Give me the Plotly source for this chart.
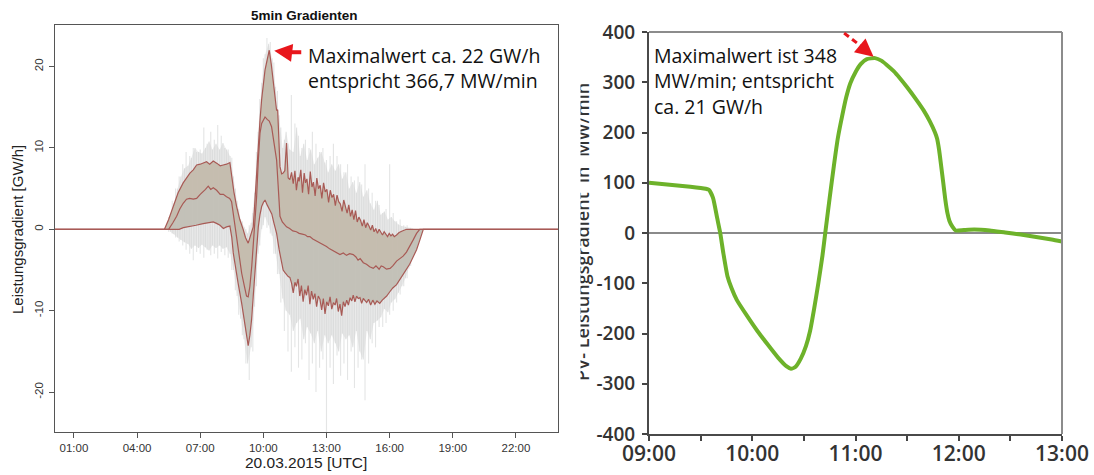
import plotly.graph_objects as go

# ---------------- left panel: 5-min ramp ensemble, 20.03.2015 [GW/h] ----------------
# (hour UTC, GW/h) upper quantile of the ensemble
q_hi = [(0, 0), (5.30, 0), (5.50, 1.2), (5.72, 2.8), (5.95, 4.5), (6.19, 5.7), (6.35, 6.3),
        (6.51, 6.9), (6.67, 7.3), (6.83, 7.9), (7.00, 8.0), (7.14, 8.1), (7.30, 8.3), (7.45, 8.0),
        (7.62, 8.4), (7.80, 8.1), (7.95, 7.8), (8.09, 7.9), (8.25, 8.0), (8.41, 8.2), (8.49, 6.5),
        (8.60, 4.6), (8.73, 2.8), (8.88, 1.2), (9.04, 0.0), (9.15, -1.0), (9.28, -1.7), (9.40, -0.8),
        (9.52, 0.3), (9.60, 3.5), (9.68, 7.3), (9.76, 10.5), (9.84, 13.4), (9.92, 16.0), (10.00, 18.3),
        (10.08, 19.6), (10.18, 20.8), (10.28, 22.0), (10.38, 20.2), (10.47, 18.3), (10.55, 16.0),
        (10.63, 14.6), (10.68, 14.7), (10.72, 12.0), (10.79, 7.7), (10.87, 6.8), (10.94, 6.9),
        (11.02, 7.2), (11.10, 10.6), (11.18, 6.3), (11.26, 6.1), (11.34, 7.0), (11.42, 5.6),
        (11.50, 7.2), (11.57, 4.8), (11.65, 6.4), (11.70, 5.9), (11.78, 7.3), (11.86, 4.5),
        (11.94, 6.9), (12.00, 5.7), (12.07, 6.2), (12.15, 4.3), (12.23, 7.1), (12.31, 5.2),
        (12.38, 5.8), (12.46, 4.1), (12.54, 6.3), (12.62, 5.0), (12.70, 5.4), (12.78, 3.8),
        (12.86, 5.7), (12.94, 4.6), (13.02, 4.9), (13.10, 3.3), (13.18, 4.8), (13.26, 3.9),
        (13.34, 4.3), (13.42, 2.9), (13.50, 4.2), (13.58, 3.4), (13.66, 3.1), (13.74, 2.2),
        (13.82, 3.6), (13.90, 2.6), (13.98, 2.0), (14.06, 3.0), (14.14, 1.6), (14.22, 2.4),
        (14.30, 1.2), (14.38, 2.3), (14.46, 0.9), (14.54, 1.5), (14.62, 1.1), (14.70, 0.4),
        (14.78, 1.2), (14.86, 0.2), (14.94, 0.8), (15.02, 0.4), (15.10, -0.1), (15.18, 0.5),
        (15.26, -0.3), (15.34, 0.1), (15.42, -0.5), (15.50, 0.0), (15.58, -0.4), (15.66, -0.7),
        (15.74, -0.3), (15.82, -0.6), (15.90, -0.9), (15.98, -0.5), (16.06, -0.8), (16.14, -0.6),
        (16.22, -0.9), (16.33, -0.7), (16.45, -0.4), (16.60, -0.2), (16.80, 0), (24, 0)]

# median of the ensemble
q_mid = [(0, 0), (5.50, 0), (5.70, 0.8), (5.88, 1.6), (6.03, 2.5), (6.19, 3.2), (6.35, 3.7),
         (6.50, 3.8), (6.67, 3.7), (6.83, 3.8), (7.00, 4.3), (7.14, 4.6), (7.25, 4.9), (7.38, 5.3),
         (7.50, 4.9), (7.62, 5.1), (7.78, 4.8), (7.95, 4.3), (8.10, 4.3), (8.25, 4.0), (8.40, 3.8),
         (8.49, 3.4), (8.60, 1.5), (8.73, -0.9), (8.85, -3.0), (8.97, -5.4), (9.10, -7.0), (9.20, -8.2),
         (9.28, -8.3), (9.36, -7.0), (9.45, -4.5), (9.52, -1.8), (9.60, 0.3), (9.68, 4.0), (9.76, 8.5),
         (9.84, 11.8), (9.92, 13.0), (10.00, 13.4), (10.08, 13.8), (10.18, 13.5), (10.28, 13.3),
         (10.39, 12.6), (10.47, 11.0), (10.55, 9.8), (10.63, 8.5), (10.70, 5.5), (10.79, 1.6),
         (10.90, 0.9), (11.00, 0.6), (11.10, 0.3), (11.25, 0.1), (11.40, -0.2), (11.57, -0.3),
         (11.70, -0.5), (11.85, -0.6), (12.00, -0.7), (12.10, -0.9), (12.21, -0.9), (12.35, -1.2),
         (12.50, -1.4), (12.60, -1.5), (12.75, -1.8), (12.90, -1.9), (13.00, -2.1), (13.15, -2.4),
         (13.30, -2.6), (13.45, -2.9), (13.64, -3.1), (13.80, -2.9), (13.95, -3.2), (14.10, -3.0),
         (14.27, -3.1), (14.40, -3.4), (14.50, -3.8), (14.60, -3.6), (14.75, -4.1), (14.90, -4.3),
         (15.05, -4.6), (15.22, -4.8), (15.35, -4.5), (15.50, -4.9), (15.60, -4.5), (15.70, -4.6),
         (15.85, -4.9), (16.02, -4.8), (16.15, -4.5), (16.33, -3.9), (16.50, -3.6), (16.64, -3.3),
         (16.80, -2.8), (16.96, -2.1), (17.12, -1.3), (17.28, -0.5), (17.43, 0), (24, 0)]

# lower quantile of the ensemble
q_lo = [(0, 0), (6.00, 0), (6.20, 0.2), (6.51, 0.4), (6.80, 0.5), (7.14, 0.7), (7.40, 0.8),
        (7.62, 0.9), (7.80, 0.7), (7.94, 0.5), (8.10, 0.1), (8.25, 0.3), (8.41, 0.4), (8.50, -1.0),
        (8.57, -2.9), (8.68, -4.8), (8.80, -6.6), (8.97, -9.1), (9.12, -11.9), (9.22, -13.5),
        (9.28, -14.3), (9.36, -13.0), (9.44, -11.1), (9.52, -8.2), (9.60, -5.4), (9.68, -2.5),
        (9.76, 0.3), (9.84, 1.8), (9.92, 2.8), (10.00, 3.3), (10.08, 3.6), (10.18, 3.0), (10.31, 2.4),
        (10.40, 1.9), (10.50, 0.8), (10.63, -0.5), (10.75, -2.5), (10.85, -4.0), (10.94, -5.0),
        (11.02, -5.3), (11.10, -5.6), (11.18, -5.8), (11.26, -5.9), (11.34, -6.6), (11.42, -7.8),
        (11.50, -6.5), (11.57, -7.0), (11.65, -6.1), (11.73, -8.2), (11.81, -6.9), (11.89, -8.9),
        (11.97, -7.4), (12.05, -8.1), (12.13, -6.9), (12.21, -9.2), (12.29, -7.6), (12.37, -8.6),
        (12.45, -7.9), (12.53, -9.5), (12.61, -8.2), (12.69, -8.6), (12.77, -9.9), (12.85, -8.5),
        (12.93, -10.4), (13.01, -8.9), (13.09, -9.4), (13.17, -8.3), (13.25, -9.8), (13.33, -9.0),
        (13.41, -9.3), (13.48, -8.5), (13.56, -10.1), (13.64, -9.2), (13.72, -10.6), (13.80, -8.9),
        (13.88, -9.5), (13.96, -8.7), (14.04, -9.3), (14.12, -8.4), (14.20, -8.8), (14.27, -8.1),
        (14.35, -8.9), (14.43, -8.2), (14.51, -8.5), (14.59, -8.4), (14.67, -9.1), (14.75, -8.5),
        (14.83, -8.7), (14.91, -9.0), (15.00, -8.6), (15.10, -9.3), (15.20, -8.7), (15.30, -9.2),
        (15.40, -8.8), (15.53, -9.1), (15.65, -8.7), (15.78, -8.4), (15.86, -8.2), (16.00, -7.7),
        (16.15, -7.2), (16.33, -6.8), (16.50, -6.1), (16.65, -5.6), (16.80, -5.0), (16.95, -4.3),
        (17.10, -3.5), (17.28, -2.5), (17.45, -1.2), (17.60, 0), (24, 0)]

# extremes of the individual ensemble members on the 10-minute marks (hour, max, min)
members_far = [(5.50, 1.5, -0.3), (5.67, 3.5, -0.5), (5.83, 5.0, -1.0), (6.00, 6.5, -1.5),
               (6.17, 8.0, -2.0), (6.33, 9.5, -2.5), (6.50, 9.0, -3.0), (6.67, 10.0, -3.8),
               (6.83, 9.5, -2.8), (7.00, 9.8, -3.0), (7.17, 12.5, -3.5), (7.33, 10.5, -2.5),
               (7.50, 12.0, -3.2), (7.67, 11.0, -3.0), (7.83, 12.8, -3.6), (8.00, 11.5, -2.8),
               (8.17, 10.0, -3.2), (8.33, 9.8, -3.5), (8.50, 8.8, -5.0), (8.67, 5.0, -7.5),
               (8.83, 2.5, -10.5), (9.00, 1.0, -13.0), (9.17, 0.0, -16.5), (9.33, 0.5, -18.5),
               (9.50, 2.0, -15.0), (9.67, 9.5, -7.0), (9.83, 16.0, -2.0), (10.00, 21.0, 0.5),
               (10.17, 23.5, 0.2), (10.33, 23.0, -0.5), (10.50, 20.5, -3.0), (10.67, 17.0, -5.5),
               (10.83, 12.5, -9.0), (11.00, 11.0, -12.5), (11.17, 10.5, -15.0), (11.33, 16.5, -17.5),
               (11.50, 13.0, -14.5), (11.67, 11.5, -17.0), (11.83, 10.0, -16.0), (12.00, 11.0, -14.0),
               (12.17, 10.0, -18.5), (12.33, 12.0, -16.5), (12.50, 10.5, -20.0), (12.67, 9.5, -17.0),
               (12.83, 10.0, -16.0), (13.00, 8.5, -25.0), (13.17, 9.0, -17.0), (13.33, 10.5, -19.0),
               (13.50, 9.0, -15.5), (13.67, 8.0, -18.0), (13.83, 7.0, -16.5), (14.00, 8.0, -18.5),
               (14.17, 6.5, -15.0), (14.33, 6.0, -19.5), (14.50, 6.5, -17.0), (14.67, 5.5, -16.0),
               (14.83, 8.0, -21.0), (15.00, 5.0, -16.5), (15.17, 4.5, -14.0), (15.33, 3.5, -14.5),
               (15.50, 3.0, -12.0), (15.67, 2.0, -12.0), (15.83, 2.5, -11.5), (16.00, 8.0, -10.5),
               (16.17, 2.0, -10.0), (16.33, 1.0, -9.0), (16.50, 1.2, -8.0), (16.67, 0.5, -7.0),
               (16.83, 0.5, -6.0), (17.00, 0.2, -4.5), (17.17, 0.0, -3.0), (17.33, 0.0, -1.8),
               (17.50, 0.0, -0.6)]

# spread of the bulk of the members on the intermediate 5-minute marks (hour, max, min)
members_near = [(5.58, 1.8, -0.3), (5.75, 3.2, -0.6), (5.92, 5.0, -1.0), (6.08, 6.5, -1.3),
                (6.25, 7.5, -1.6), (6.42, 7.8, -1.8), (6.58, 8.8, -2.4), (6.75, 10.0, -2.0),
                (6.92, 9.5, -2.3), (7.08, 9.3, -1.9), (7.25, 10.0, -2.2), (7.42, 10.8, -2.6),
                (7.58, 9.8, -2.0), (7.75, 10.5, -2.3), (7.92, 9.8, -2.0), (8.08, 10.6, -2.4),
                (8.25, 9.8, -2.2), (8.42, 9.0, -3.0), (8.58, 6.5, -5.0), (8.75, 3.5, -8.2),
                (8.92, 1.2, -11.0), (9.08, 0.3, -13.5), (9.25, -0.5, -16.5), (9.42, 0.8, -14.5),
                (9.58, 4.5, -9.5), (9.75, 12.0, -3.0), (9.92, 18.0, 0.0), (10.08, 21.5, 1.5),
                (10.25, 22.8, 0.5), (10.42, 21.0, -0.8), (10.58, 17.5, -3.0), (10.75, 14.0, -5.5),
                (10.92, 10.0, -8.5), (11.08, 12.0, -10.0), (11.25, 9.8, -10.5), (11.42, 9.5, -12.5),
                (11.58, 12.5, -11.5), (11.75, 9.0, -11.0), (11.92, 10.5, -13.5), (12.08, 8.5, -12.0),
                (12.25, 9.8, -12.8), (12.42, 8.0, -14.0), (12.58, 8.8, -12.5), (12.75, 9.5, -15.0),
                (12.92, 8.2, -13.0), (13.08, 7.0, -14.0), (13.25, 8.0, -13.0), (13.42, 7.2, -14.0),
                (13.58, 8.0, -15.0), (13.75, 6.2, -12.8), (13.92, 7.0, -13.5), (14.08, 5.0, -13.0),
                (14.25, 5.8, -14.5), (14.42, 4.5, -12.5), (14.58, 5.8, -15.0), (14.75, 4.0, -16.0),
                (14.92, 4.8, -12.5), (15.08, 3.2, -13.5), (15.25, 2.4, -11.5), (15.42, 3.5, -11.2),
                (15.58, 1.8, -10.8), (15.75, 2.2, -9.8), (15.92, 1.2, -10.2), (16.08, 1.5, -9.0),
                (16.25, 1.0, -8.6), (16.42, 0.6, -7.8), (16.58, 0.4, -7.0), (16.75, 0.3, -6.0),
                (16.92, 0.2, -4.8), (17.08, 0.1, -3.6), (17.25, 0.0, -2.3), (17.42, 0.0, -1.1)]

left_ticks = [1, 4, 7, 10, 13, 16, 19, 22]
left_yticks = [-20, -10, 0, 10, 20]

# ---------------- right panel: PV ramp in MW/min ----------------
pv_ramp = [(9.00, 100), (9.20, 96), (9.40, 92), (9.55, 88), (9.58, 86), (9.62, 70), (9.66, 30),
           (9.69, 0), (9.72, -40), (9.76, -86), (9.80, -110), (9.85, -133), (9.95, -165),
           (10.05, -195), (10.15, -222), (10.25, -248), (10.33, -265), (10.375, -270), (10.42, -266),
           (10.47, -250), (10.52, -225), (10.56, -195), (10.60, -150), (10.64, -100), (10.68, -45),
           (10.707, 0), (10.75, 70), (10.79, 133), (10.83, 190), (10.87, 232), (10.91, 270),
           (10.95, 298), (11.00, 320), (11.05, 336), (11.11, 346), (11.19, 348), (11.25, 343),
           (11.30, 335), (11.37, 322), (11.43, 308), (11.50, 290), (11.59, 265), (11.66, 244),
           (11.72, 222), (11.77, 200), (11.79, 188), (11.81, 165), (11.83, 133), (11.85, 100),
           (11.87, 66), (11.89, 40), (11.91, 24), (11.94, 12), (11.97, 5), (12.05, 6), (12.15, 7),
           (12.30, 5), (12.45, 1), (12.60, -3), (12.75, -8), (12.90, -13), (13.00, -17)]

right_ticks = [9, 9.5, 10, 10.5, 11, 11.5, 12, 12.5, 13]
right_yticks = [-400, -300, -200, -100, 0, 100, 200, 300, 400]


def hhmm(h):
    return f"{int(h):02d}:{int(round((h - int(h)) * 60)):02d}"


def unzip(pairs):
    return [p[0] for p in pairs], [p[1] for p in pairs]


def strokes(rows):
    xs, ys = [], []
    for h, top, bot in rows:
        xs += [h, h, None]
        ys += [bot, top, None]
    return xs, ys


W, H = 1094, 475
hi_x, hi_y = unzip(q_hi)
mid_x, mid_y = unzip(q_mid)
lo_x, lo_y = unzip(q_lo)
n_x = [m[0] for m in members_near]
n_hi = [m[1] for m in members_near]
n_lo = [m[2] for m in members_near]
pv_x, pv_y = unzip(pv_ramp)

fig = go.Figure()

# haze spanned by the bulk of the members
fig.add_trace(go.Scatter(
    x=n_x + n_x[::-1], y=n_hi + n_lo[::-1], fill="toself",
    fillcolor="rgba(214,215,214,0.42)", line=dict(width=0),
    mode="lines", hoverinfo="skip", xaxis="x", yaxis="y"))

# individual member excursions drawn as thin vertical strokes
for rows, col in [(members_far, "rgba(202,204,204,0.5)"), (members_near, "rgba(198,200,199,0.45)")]:
    sx, sy = strokes(rows)
    fig.add_trace(go.Scatter(x=sx, y=sy, mode="lines", line=dict(color=col, width=1.1),
                             hoverinfo="skip", xaxis="x", yaxis="y"))

# quantile band
fig.add_trace(go.Scatter(
    x=hi_x + lo_x[::-1], y=hi_y + lo_y[::-1], fill="toself",
    fillcolor="rgba(192,190,180,0.92)", line=dict(width=0),
    mode="lines", hoverinfo="skip", xaxis="x", yaxis="y"))
# warm tint in the upper half of the band
fig.add_trace(go.Scatter(
    x=hi_x + mid_x[::-1], y=hi_y + mid_y[::-1], fill="toself",
    fillcolor="rgba(214,160,118,0.13)", line=dict(width=0),
    mode="lines", hoverinfo="skip", xaxis="x", yaxis="y"))

qcol = "#a85a55"
for xs, ys in [(hi_x, hi_y), (mid_x, mid_y), (lo_x, lo_y)]:
    fig.add_trace(go.Scatter(x=xs, y=ys, mode="lines", line=dict(color=qcol, width=1.2),
                             hoverinfo="skip", xaxis="x", yaxis="y"))

# right panel curve
fig.add_trace(go.Scatter(
    x=pv_x, y=pv_y, mode="lines", line=dict(color="#6db22a", width=4, shape="spline", smoothing=0.5),
    hoverinfo="skip", xaxis="x2", yaxis="y2"))

sans = "Liberation Sans"
frut = "Open Sans"

fig.update_layout(
    width=W, height=H, margin=dict(l=0, r=0, t=0, b=0),
    paper_bgcolor="white", plot_bgcolor="white", showlegend=False,
    xaxis=dict(domain=[55 / W, 558 / W], range=[0.1, 24.0], anchor="y", automargin=False,
               tickvals=left_ticks, ticktext=[hhmm(t) for t in left_ticks],
               ticks="outside", ticklen=5, tickcolor="#555", showgrid=False, zeroline=False,
               showline=True, mirror=True, linecolor="#555", linewidth=1,
               tickfont=dict(family=sans, size=11.5, color="#333"), ticklabelstandoff=0),
    yaxis=dict(domain=[1 - 432 / H, 1 - 25 / H], range=[-24.9, 25.1], anchor="x", automargin=False,
               tickvals=left_yticks, ticktext=[str(t) for t in left_yticks], tickangle=-90,
               ticks="outside", ticklen=5, tickcolor="#555", showgrid=False, zeroline=False,
               showline=True, mirror=True, linecolor="#555", linewidth=1,
               tickfont=dict(family=sans, size=11.5, color="#333"), ticklabelstandoff=1),
    xaxis2=dict(domain=[649 / W, 1062 / W], range=[9, 13], anchor="y2", automargin=False,
                tickvals=right_ticks,
                ticktext=[hhmm(t) if t == int(t) else "" for t in right_ticks],
                ticks="outside", ticklen=5, tickwidth=2, tickcolor="#444",
                showgrid=False, zeroline=False, showline=True, linecolor="#4a4a4a", linewidth=2,
                tickfont=dict(family=frut, size=21, color="#333", weight=600), ticklabelstandoff=-5),
    yaxis2=dict(domain=[1 - 434 / H, 1 - 32 / H], range=[-400, 400], anchor="x2", automargin=False,
                tickvals=right_yticks, ticktext=[str(t) for t in right_yticks],
                ticks="outside", ticklen=5, tickwidth=2, tickcolor="#444",
                showgrid=False, zeroline=True, zerolinecolor="#8a8a8a", zerolinewidth=2,
                showline=True, linecolor="#4a4a4a", linewidth=2,
                tickfont=dict(family=frut, size=19, color="#333", weight=600), ticklabelstandoff=3),
)

# light frame on top and right of the right panel
fig.add_shape(type="line", xref="x2 domain", yref="y2 domain", x0=0, x1=1, y0=1, y1=1,
              line=dict(color="#8c8c8c", width=2))
fig.add_shape(type="line", xref="x2 domain", yref="y2 domain", x0=1, x1=1, y0=0, y1=1,
              line=dict(color="#8c8c8c", width=2))

red = "#e8161c"
# left: arrow pointing at the ensemble maximum
i_pk = hi_y.index(max(hi_y))
pk_x, pk_y = hi_x[i_pk], hi_y[i_pk]
fig.add_annotation(x=pk_x, y=pk_y, xref="x", yref="y", ax=17, ay=2, axref="pixel", ayref="pixel",
                   text="", showarrow=True, arrowhead=2, arrowsize=1.2, arrowwidth=3,
                   arrowcolor=red, standoff=5)
fig.add_shape(type="line", xref="x", yref="y", xsizemode="pixel", ysizemode="pixel",
              xanchor=pk_x, yanchor=pk_y, x0=22, x1=32, y0=-2, y1=-2,
              line=dict(color=red, width=4))

# right: dashed arrow pointing at the curve maximum
j_pk = pv_y.index(max(pv_y))
mx_x, mx_y = pv_x[j_pk], pv_y[j_pk]
fig.add_shape(type="line", xref="x2", yref="y2", xsizemode="pixel", ysizemode="pixel",
              xanchor=mx_x, yanchor=mx_y, x0=-31, y0=25, x1=-10, y1=9,
              line=dict(color=red, width=3, dash="6px,4px"))
fig.add_annotation(x=mx_x, y=mx_y, xref="x2", yref="y2", ax=-12, ay=-10, axref="pixel",
                   ayref="pixel", text="", showarrow=True, arrowhead=2, arrowsize=1.2,
                   arrowwidth=3, arrowcolor=red, standoff=2)


# texts
def label(text, x, y, size, family, color="#111", angle=0, xanchor="center", weight=None, **kw):
    font = dict(family=family, size=size, color=color)
    if weight:
        font["weight"] = weight
    fig.add_annotation(text=text, xref="paper", yref="paper", x=x / W, y=1 - y / H,
                       xanchor=xanchor, yanchor="middle", showarrow=False, textangle=angle,
                       font=font, **kw)


label("<b>5min Gradienten</b>", 305, 15.5, 13.5, sans)
label("Leistungsgradient [GW/h]", 18, 230, 15, sans, color="#222", angle=-90)
label("20.03.2015 [UTC]", 306, 462, 15.5, sans, color="#222")
label("Maximalwert ca. %d GW/h<br>entspricht 366,7 MW/min" % round(pk_y), 306, 68.5, 19.5, frut,
      xanchor="left", align="left")
label("Maximalwert ist %d<br>MW/min; entspricht<br>ca. 21 GW/h" % mx_y, 652, 81, 19.5, frut,
      xanchor="left", align="left")
label("PV- Leistungsgradient  in  MW/min", 582, 232, 18, frut, color="#333", angle=-90, weight=600)
# cropped edge of the right figure
label(".", 581, 232, 4, frut, color="white", xanchor="right", width=16, height=340,
      bgcolor="white", borderpad=0)

fig.write_html("out.html")
